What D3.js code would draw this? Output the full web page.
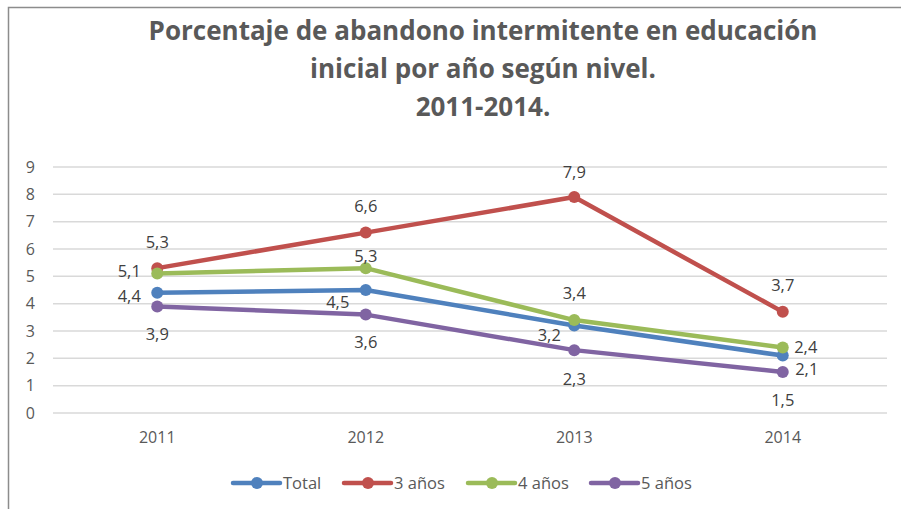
<!DOCTYPE html>
<html>
<head>
<meta charset="utf-8">
<script src="https://cdn.jsdelivr.net/npm/d3@7"></script>
<style>
  body { margin: 0; background: #fff; }
  svg { display: block; font-family: "Open Sans", "Liberation Sans", sans-serif; }
</style>
</head>
<body>
<svg id="chart" width="901" height="510"></svg>
<script>
(function () {
  // Data
  var years = ['2011', '2012', '2013', '2014']
  var seriesNames = ['Total', '3 años', '4 años', '5 años']
  var total = [4.4, 4.5, 3.2, 2.1]
  var tres = [5.3, 6.6, 7.9, 3.7]
  var cuatro = [5.1, 5.3, 3.4, 2.4]
  var cinco = [3.9, 3.6, 2.3, 1.5]
  var yTicks = [0, 1, 2, 3, 4, 5, 6, 7, 8, 9]
  var titleLines = ['Porcentaje de abandono intermitente en educación', 'inicial por año según nivel.', '2011-2014.']

  var colors = ['#4F81BD', '#C0504D', '#9BBB59', '#8064A2']
  var values = [total, tres, cuatro, cinco]

  // label offsets relative to the point, per series and per year
  var labelOffsets = [
    [[-28, 3], [-28, 12], [-25, 10], [24, 14]],
    [[0, -26], [0, -26], [0, -25], [0, -27]],
    [[-28, -2], [0, -12], [0, -27], [23, 0]],
    [[0, 28], [0, 28], [0, 29], [0, 28]]
  ]

  var svg = d3.select('#chart')

  // frame (only top/left visible in the picture)
  svg.append('path')
    .attr('d', 'M8.5,509 V7.5 H901')
    .attr('fill', 'none')
    .attr('stroke', '#8c8c8c')
    .attr('stroke-width', 1.5)

  // Title
  svg.append('g')
    .selectAll('text')
    .data(titleLines)
    .enter().append('text')
    .attr('x', 483)
    .attr('y', function (d, i) { return 40 + i * 38 })
    .attr('text-anchor', 'middle')
    .attr('font-size', 26)
    .attr('font-weight', 'bold')
    .attr('fill', '#595959')
    .text(function (d) { return d })

  var x = d3.scaleBand().domain(years).range([53, 887])
  var y = d3.scaleLinear().domain([0, 9]).range([413, 167])

  // gridlines
  svg.append('g')
    .selectAll('line')
    .data(yTicks)
    .enter().append('line')
    .attr('x1', 53)
    .attr('x2', 887)
    .attr('y1', function (d) { return y(d) })
    .attr('y2', function (d) { return y(d) })
    .attr('stroke', '#d9d9d9')
    .attr('stroke-width', 1.5)

  // y axis
  var yAxis = svg.append('g')
    .attr('transform', 'translate(35,0)')
    .call(d3.axisLeft(y).tickValues(yTicks).tickSize(0).tickPadding(0))
  yAxis.select('.domain').remove()
  yAxis.selectAll('text')
    .attr('font-size', 16)
    .attr('fill', '#595959')
    .attr('font-family', '"Open Sans", sans-serif')

  // x axis
  var xAxis = svg.append('g')
    .attr('transform', 'translate(0,413)')
    .call(d3.axisBottom(x).tickSize(0).tickPadding(19))
  xAxis.select('.domain').remove()
  xAxis.selectAll('text')
    .attr('font-size', 16)
    .attr('fill', '#595959')
    .attr('font-family', '"Open Sans", sans-serif')

  var line = d3.line()
    .x(function (d, i) { return x(years[i]) + x.bandwidth() / 2 })
    .y(function (d) { return y(d) })

  var series = svg.append('g')
    .selectAll('g')
    .data(values)
    .enter().append('g')

  series.append('path')
    .attr('d', function (d) { return line(d) })
    .attr('fill', 'none')
    .attr('stroke', function (d, i) { return colors[i] })
    .attr('stroke-width', 4.5)
    .attr('stroke-linejoin', 'round')
    .attr('stroke-linecap', 'round')

  series.each(function (vals, si) {
    var g = d3.select(this)
    g.selectAll('circle')
      .data(vals)
      .enter().append('circle')
      .attr('cx', function (d, i) { return x(years[i]) + x.bandwidth() / 2 })
      .attr('cy', function (d) { return y(d) })
      .attr('r', 6)
      .attr('fill', colors[si])
  })

  // data labels (drawn after all lines)
  var labels = svg.append('g')
  values.forEach(function (vals, si) {
    vals.forEach(function (v, i) {
      var o = labelOffsets[si][i]
      labels.append('text')
        .attr('x', x(years[i]) + x.bandwidth() / 2 + o[0])
        .attr('y', y(v) + o[1])
        .attr('dy', '0.35em')
        .attr('text-anchor', 'middle')
        .attr('font-size', 16.5)
        .attr('fill', '#404040')
        .text(String(v).replace('.', ','))
    })
  })

  // legend
  var legendX = [233, 344, 468, 591]
  var legend = svg.append('g')
    .selectAll('g')
    .data(seriesNames)
    .enter().append('g')
    .attr('transform', function (d, i) { return 'translate(' + legendX[i] + ',483)' })

  legend.append('line')
    .attr('x1', 0).attr('x2', 47)
    .attr('stroke', function (d, i) { return colors[i] })
    .attr('stroke-width', 4.5)
    .attr('stroke-linecap', 'round')
  legend.append('circle')
    .attr('cx', 24)
    .attr('r', 6)
    .attr('fill', function (d, i) { return colors[i] })
  legend.append('text')
    .attr('x', 50)
    .attr('dy', '0.35em')
    .attr('font-size', 16.5)
    .attr('fill', '#595959')
    .text(function (d) { return d })
})()
</script>
</body>
</html>
